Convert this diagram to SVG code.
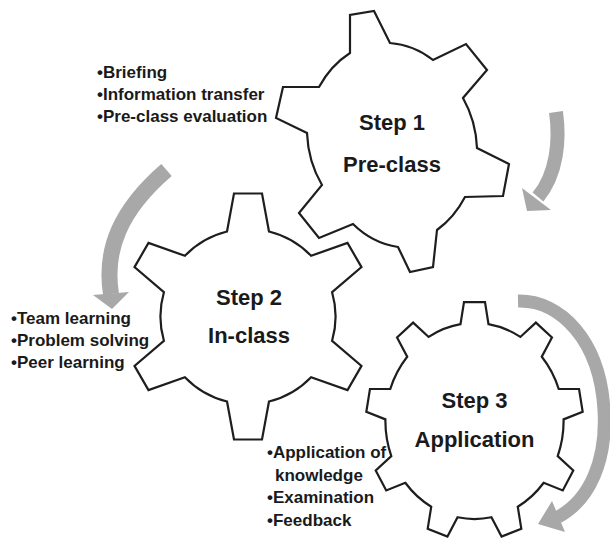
<svg xmlns="http://www.w3.org/2000/svg" width="610" height="540" viewBox="0 0 610 540">
<style>
.gear{fill:#fff;stroke:#1e1e1e;stroke-width:2.2;stroke-linejoin:miter}
.title{font-family:"Liberation Sans",Arial,sans-serif;font-weight:bold;font-size:22px;fill:#1a1a1a;text-anchor:middle}
.bul{font-family:"Liberation Sans",Arial,sans-serif;font-weight:bold;font-size:17px;fill:#1a1a1a}
.shaft{fill:none;stroke:#a8a8a8;stroke-width:14}
.head{fill:#a8a8a8}
</style>
<rect width="610" height="540" fill="#fff"/>
<g id="connectors">
  <g id="arrow1">
    <path class="shaft" d="M 556,112 C 560,140 557,174 538,197"/>
    <polygon class="head" points="522,188 551,210 527,211"/>
  </g>
  <g id="arrow2">
    <path class="shaft" style="stroke-width:16" d="M 166.5,170 C 120,210 104,250 111,294"/>
    <polygon class="head" points="93,295 129,292 112,309"/>
  </g>
  <g id="arrow3">
    <path class="shaft" style="stroke-width:13" d="M 518,301 C 560,300 600,340 604,410 C 607,460 590,500 558,517"/>
    <polygon class="head" points="552,501 565,532 538,524"/>
  </g>
</g>
<g id="step1">
  <path class="gear" d="M 350,53 L 350,15 L 374,11 L 390,43 A 86 100 0 0 1 433,60 L 466,44 L 487,70 L 463,98 A 86 100 0 0 1 477,148 L 509,164 L 503,196 L 465,197 A 86 100 0 0 1 437,230 L 433,267 L 410,272 L 398,247 A 86 100 0 0 1 353,224 L 319,238 L 299,213 L 322,185 A 86 100 0 0 1 307,133 L 276,118 L 283,87 L 319,87 A 86 100 0 0 1 350,53 Z"/>
  <text class="title" x="392" y="130">Step 1</text>
  <text class="title" x="392" y="172">Pre-class</text>
</g>
<g id="step2">
  <path class="gear" transform="translate(248,316.5)" d="M -21,-85 L -14,-123 L 14,-123 L 21,-85 A 87.6 87.6 0 0 1 63.1,-60.7 L 99.5,-73.6 L 113.5,-49.4 L 84.1,-24.3 A 87.6 87.6 0 0 1 84.1,24.3 L 113.5,49.4 L 99.5,73.6 L 63.1,60.7 A 87.6 87.6 0 0 1 21,85 L 14,123 L -14,123 L -21,85 A 87.6 87.6 0 0 1 -63.1,60.7 L -99.5,73.6 L -113.5,49.4 L -84.1,24.3 A 87.6 87.6 0 0 1 -84.1,-24.3 L -113.5,-49.4 L -99.5,-73.6 L -63.1,-60.7 A 87.6 87.6 0 0 1 -21,-85 Z"/>
  <text class="title" x="249" y="305">Step 2</text>
  <text class="title" x="249" y="343">In-class</text>
</g>
<g id="step3">
  <path class="gear" vector-effect="non-scaling-stroke" transform="translate(474.5,421) scale(1,1.1)" d="M -14,-88 L -10.5,-108 L 10.5,-108 L 14,-88 A 89.1 89.1 0 0 1 45.85,-76.41 L 61.38,-89.48 L 77.46,-75.98 L 67.29,-58.41 A 89.1 89.1 0 0 1 84.23,-29.07 L 104.54,-29.09 L 108.18,-8.41 L 89.09,-1.49 A 89.1 89.1 0 0 1 83.21,31.88 L 98.78,44.91 L 88.28,63.09 L 69.21,56.12 A 89.1 89.1 0 0 1 43.26,77.9 L 46.81,97.9 L 27.07,105.08 L 16.94,87.48 A 89.1 89.1 0 0 1 -16.94,87.48 L -27.07,105.08 L -46.81,97.9 L -43.26,77.9 A 89.1 89.1 0 0 1 -69.21,56.12 L -88.28,63.09 L -98.78,44.91 L -83.21,31.88 A 89.1 89.1 0 0 1 -89.09,-1.49 L -108.18,-8.41 L -104.54,-29.09 L -84.23,-29.07 A 89.1 89.1 0 0 1 -67.29,-58.41 L -77.46,-75.98 L -61.38,-89.48 L -45.85,-76.41 A 89.1 89.1 0 0 1 -14,-88 Z"/>
  <text class="title" x="474.5" y="408">Step 3</text>
  <text class="title" x="474.5" y="447">Application</text>
</g>
<g id="list1">
  <text class="bul" x="97" y="78">•Briefing</text>
  <text class="bul" x="97" y="100">•Information transfer</text>
  <text class="bul" x="97" y="122">•Pre-class evaluation</text>
</g>
<g id="list2">
  <text class="bul" x="11" y="324">•Team learning</text>
  <text class="bul" x="11" y="346">•Problem solving</text>
  <text class="bul" x="11" y="368">•Peer learning</text>
</g>
<g id="list3">
  <text class="bul" x="267" y="458">•Application of</text>
  <text class="bul" x="275" y="481">knowledge</text>
  <text class="bul" x="267" y="503">•Examination</text>
  <text class="bul" x="267" y="526">•Feedback</text>
</g>
</svg>
